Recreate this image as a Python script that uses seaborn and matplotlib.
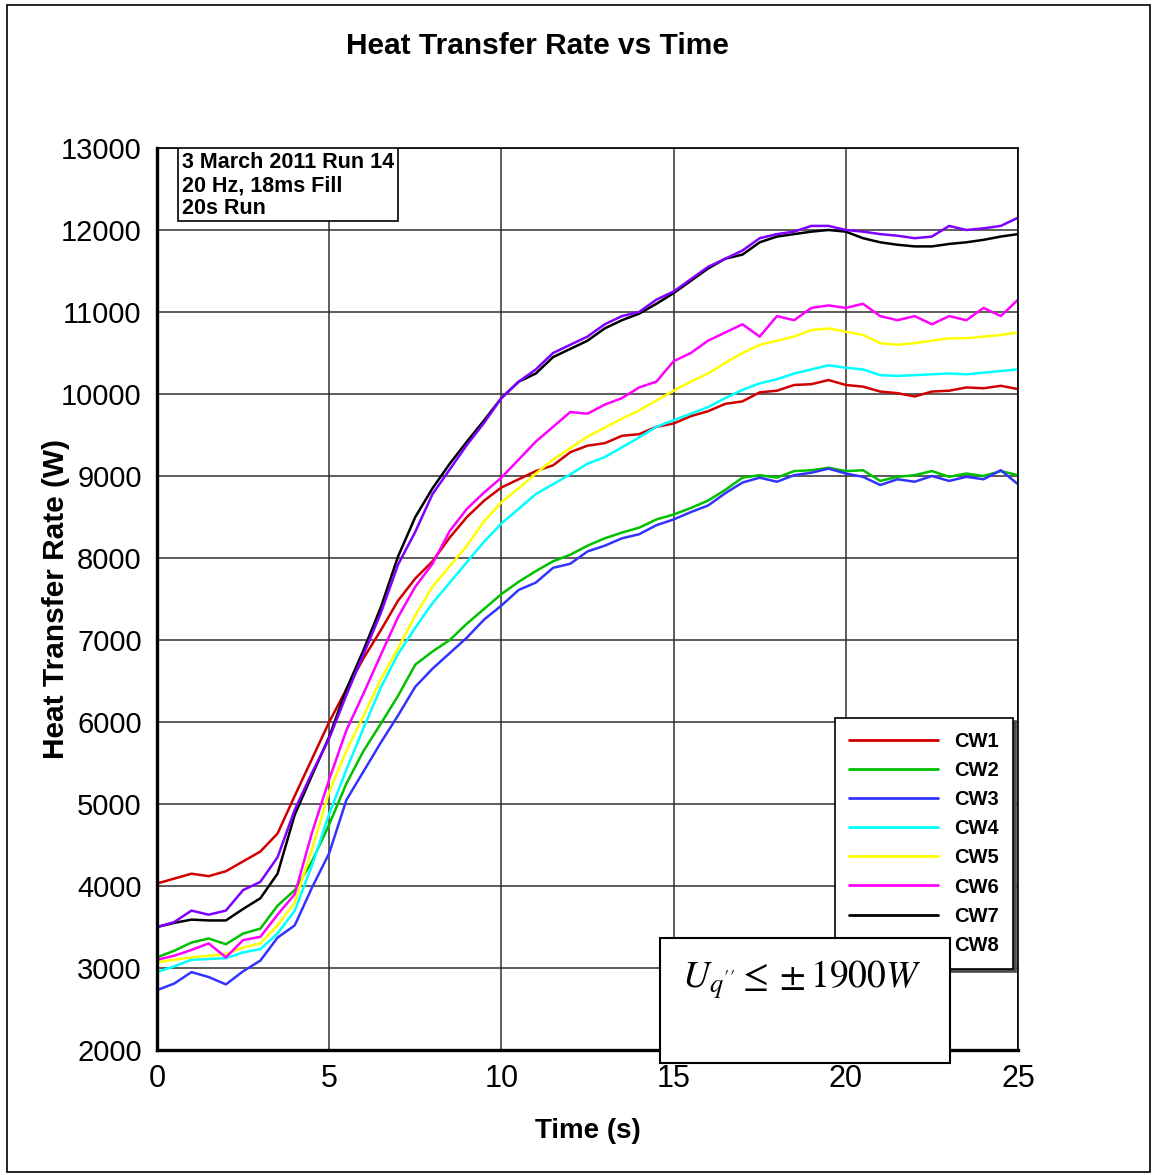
import numpy as np
import pandas as pd
import matplotlib
matplotlib.use("Agg")
import matplotlib.pyplot as plt
from matplotlib import font_manager
from matplotlib.patches import Rectangle
import seaborn as sns

# time axis (s), one reading every half second
time_s = np.arange(0, 25.01, 0.5)

# heat transfer rate (W) per cooling water channel
cw1 = [4030, 4090, 4150, 4120, 4180, 4300, 4420, 4640, 5100, 5550,
       6000, 6400, 6780, 7120, 7480, 7750, 7960, 8250, 8500, 8700,
       8860, 8960, 9060, 9130, 9290, 9370, 9400, 9490, 9510, 9600,
       9640, 9730, 9790, 9880, 9910, 10020, 10040, 10110, 10120, 10170,
       10110, 10090, 10030, 10010, 9970, 10030, 10040, 10080, 10070, 10100,
       10060]
cw2 = [3130, 3210, 3310, 3360, 3290, 3420, 3480, 3760, 3950, 4300,
       4750, 5250, 5650, 5980, 6320, 6700, 6860, 7000, 7200, 7380,
       7560, 7710, 7840, 7960, 8040, 8150, 8240, 8310, 8370, 8470,
       8530, 8610, 8700, 8830, 8980, 9010, 8980, 9060, 9070, 9100,
       9060, 9070, 8940, 8990, 9010, 9060, 8990, 9030, 9000, 9060,
       9010]
cw3 = [2730, 2810, 2950, 2890, 2800, 2960, 3090, 3370, 3520, 3980,
       4400, 5050, 5400, 5750, 6080, 6430, 6650, 6840, 7030, 7250,
       7420, 7610, 7700, 7880, 7930, 8080, 8150, 8240, 8290, 8400,
       8470, 8560, 8640, 8790, 8920, 8980, 8930, 9010, 9040, 9090,
       9030, 8990, 8890, 8960, 8930, 9000, 8940, 8990, 8960, 9070,
       8900]
cw4 = [2950, 3020, 3100, 3110, 3120, 3190, 3230, 3420, 3700, 4250,
       4880, 5420, 5930, 6420, 6830, 7150, 7450, 7700, 7950, 8200,
       8420, 8600, 8780, 8900, 9020, 9150, 9230, 9350, 9470, 9600,
       9680, 9760, 9840, 9950, 10050, 10130, 10180, 10250, 10300, 10350,
       10320, 10300, 10230, 10220, 10230, 10240, 10250, 10240, 10260, 10280,
       10300]
cw5 = [3070, 3100, 3130, 3150, 3170, 3250, 3300, 3520, 3800, 4450,
       5150, 5650, 6080, 6520, 6900, 7300, 7650, 7900, 8150, 8450,
       8680, 8850, 9030, 9200, 9340, 9480, 9590, 9700, 9800, 9920,
       10040, 10150, 10250, 10380, 10500, 10600, 10650, 10700, 10780, 10800,
       10760, 10720, 10620, 10600, 10620, 10650, 10680, 10680, 10700, 10720,
       10750]
cw6 = [3100, 3150, 3220, 3300, 3130, 3340, 3380, 3650, 3900, 4650,
       5300, 5900, 6350, 6820, 7280, 7650, 7930, 8330, 8600, 8800,
       8980, 9200, 9420, 9600, 9780, 9760, 9870, 9950, 10080, 10150,
       10400, 10500, 10650, 10750, 10850, 10700, 10950, 10900, 11050, 11080,
       11050, 11100, 10950, 10900, 10950, 10850, 10950, 10900, 11050, 10950,
       11150]
cw7 = [3500, 3550, 3590, 3580, 3580, 3720, 3850, 4150, 4870, 5350,
       5820, 6400, 6880, 7400, 8020, 8500, 8850, 9150, 9420, 9680,
       9950, 10150, 10250, 10450, 10550, 10650, 10800, 10900, 10980, 11100,
       11230, 11380, 11530, 11650, 11700, 11850, 11920, 11950, 11980, 12000,
       11980, 11900, 11850, 11820, 11800, 11800, 11830, 11850, 11880, 11920,
       11950]
cw8 = [3500, 3560, 3700, 3650, 3700, 3950, 4050, 4350, 4930, 5380,
       5800, 6330, 6830, 7330, 7920, 8320, 8780, 9080, 9380, 9650,
       9950, 10150, 10300, 10500, 10600, 10700, 10850, 10950, 11000, 11150,
       11250, 11400, 11550, 11650, 11750, 11900, 11950, 11980, 12050, 12050,
       12000, 11980, 11950, 11930, 11900, 11920, 12050, 12000, 12020, 12050,
       12150]

channels = ["CW1", "CW2", "CW3", "CW4", "CW5", "CW6", "CW7", "CW8"]
series = [cw1, cw2, cw3, cw4, cw5, cw6, cw7, cw8]
colors = ["#d00000", "#00c000", "#3333ff", "#00ffff",
          "#ffff00", "#ff00ff", "#000000", "#7f00ff"]

x_ticks = [0, 5, 10, 15, 20, 25]
y_ticks = list(range(2000, 13001, 1000))


def pick_font(names, fallback):
    have = {f.name for f in font_manager.fontManager.ttflist}
    for n in names:
        if n in have:
            return n
    return fallback


sns.set_style("white")
narrow = pick_font(["Liberation Sans Narrow", "Arial Narrow"], "Liberation Sans")
plain = pick_font(["Liberation Sans", "Arial"], "DejaVu Sans")
plt.rcParams["font.family"] = [plain, "DejaVu Sans"]
plt.rcParams["mathtext.fontset"] = "stix"
for key in ["text.color", "axes.labelcolor", "xtick.color", "ytick.color"]:
    plt.rcParams[key] = "black"

df = pd.concat(
    [pd.DataFrame({"Time": time_s, "Rate": vals, "Channel": name})
     for name, vals in zip(channels, series)],
    ignore_index=True,
)

fig = plt.figure(figsize=(11.53, 11.75), dpi=100)
W, H = 1153, 1175
ax = fig.add_axes([157 / W, 1 - 1050 / H, 861 / W, 902 / H])

sns.lineplot(data=df, x="Time", y="Rate", hue="Channel", hue_order=channels,
             palette=dict(zip(channels, colors)), linewidth=1.8, ax=ax,
             estimator=None, sort=False)

ax.set_xlim(0, 25)
ax.set_ylim(2000, 13000)
ax.set_xticks(x_ticks)
ax.set_yticks(y_ticks)
ax.set_xticks(np.arange(0, 25.01, 1), minor=True)
ax.set_yticks(np.arange(2000, 13001, 200), minor=True)
ax.grid(True, which="major", color="#303030", linewidth=1.1)
ax.set_axisbelow(True)

ax.tick_params(which="major", direction="in", length=15, width=2.8, colors="black")
ax.tick_params(which="minor", direction="in", length=8, width=1.0, colors="black")
ax.tick_params(axis="y", which="major", pad=11)
ax.tick_params(axis="x", which="major", pad=10)
for lab in ax.get_yticklabels():
    lab.set_fontfamily(plain)
    lab.set_fontsize(21)
for lab in ax.get_xticklabels():
    lab.set_fontfamily(narrow)
    lab.set_fontsize(22)

for side in ["left", "bottom"]:
    ax.spines[side].set_linewidth(2.4)
for side in ["top", "right"]:
    ax.spines[side].set_linewidth(1.2)
for sp in ax.spines.values():
    sp.set_color("black")

ax.set_xlabel("Time (s)", fontfamily=narrow, fontweight="bold", fontsize=20)
ax.set_ylabel("Heat Transfer Rate (W)", fontfamily=narrow, fontweight="bold", fontsize=21.5)
ax.xaxis.set_label_coords(0.5, (1050 - 1118) / 902)
ax.yaxis.set_label_coords((70 - 157) / 861, 0.5)

fig.text(537 / W, 1 - 46 / H, "Heat Transfer Rate vs Time", fontfamily=narrow,
         fontweight="bold", fontsize=21.5, ha="center", va="center")

# run info box
ax.text((182 - 157) / 861, 0.996, "3 March 2011 Run 14\n20 Hz, 18ms Fill\n20s Run",
        transform=ax.transAxes, ha="left", va="top", fontfamily=narrow,
        fontweight="bold", fontsize=15.5, linespacing=1.15, zorder=6)
ax.add_patch(Rectangle(((178 - 157) / 861, (1050 - 221) / 902), 220 / 861, 73 / 902,
                       transform=ax.transAxes, facecolor="white", edgecolor="black",
                       linewidth=1.2, zorder=5))

# legend
handles, labels = ax.get_legend_handles_labels()
leg = ax.legend(handles, labels, loc="upper right", bbox_to_anchor=(0.994, 0.368),
                frameon=True, fancybox=False, shadow={"color": "0.3", "alpha": 1},
                edgecolor="black", prop=dict(family=narrow, weight="bold", size=14.5),
                handlelength=4.4, handletextpad=0.8, labelspacing=0.5,
                borderpad=0.7, borderaxespad=0)
leg.get_frame().set_linewidth(1.2)
for h in leg.get_lines():
    h.set_linewidth(2.0)
leg.set_zorder(7)

# uncertainty box
ax.add_patch(Rectangle(((660 - 157) / 861, (1050 - 1063) / 902), 290 / 861, 125 / 902,
                       transform=ax.transAxes, facecolor="white", edgecolor="black",
                       linewidth=1.5, zorder=10, clip_on=False))
ax.text((802 - 157) / 861, (1050 - 980) / 902, r"$U_{q''}\leq\pm1900W$",
        transform=ax.transAxes, ha="center", va="center", fontsize=27, zorder=11)

# outer frame
fig.add_artist(Rectangle((7 / W, 1 - 1172 / H), 1143 / W, 1167 / H,
                         transform=fig.transFigure, fill=False,
                         edgecolor="black", linewidth=1.2))

fig.savefig("out.png", dpi=100)
